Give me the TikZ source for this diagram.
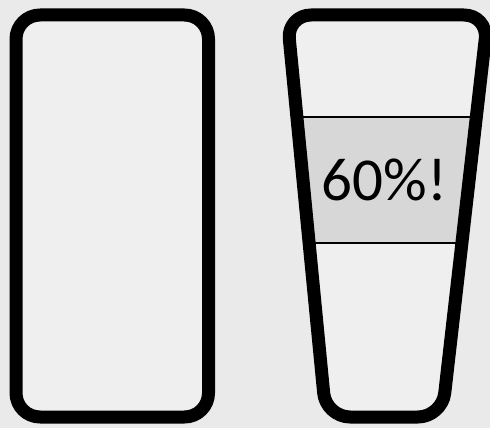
\documentclass[tikz,border=0pt]{standalone}
\usepackage{fontspec}
\setmainfont{Carlito}
\usetikzlibrary{calc}
\definecolor{paper}{HTML}{EAEAEA}
\definecolor{inside}{HTML}{EFEFEF}
\definecolor{band}{HTML}{D7D7D7}

\begin{document}
\begin{tikzpicture}[x=1pt, y=-1pt, rim/.style={draw=black, line width=13pt, rounded corners=24pt, line join=round}, level/.style={line width=2.5pt}]
\useasboundingbox[fill=paper] (0,0) rectangle (490,428);
% plain box on the left
\draw[rim, fill=inside] (16,15) rectangle (208.5,417);
% tapered cup on the right
\coordinate (tl) at (287,15);
\coordinate (tr) at (488,15);
\coordinate (br) at (442,417);
\coordinate (bl) at (326,417);
\fill[inside, rounded corners=24pt] (tl) -- (tr) -- (br) -- (bl) -- cycle;
\coordinate (hiL) at ($(tl)!0.254!(bl)$);
\coordinate (hiR) at ($(tr)!0.254!(br)$);
\coordinate (loL) at ($(tl)!0.567!(bl)$);
\coordinate (loR) at ($(tr)!0.567!(br)$);
\fill[band] (hiL) -- (hiR) -- (loR) -- (loL) -- cycle;
\draw[level] (hiL) -- (hiR);
\draw[level] (loL) -- (loR);
\node[anchor=base, inner sep=0pt, font=\fontsize{61}{70}\selectfont] (pct) at (384.5,200) {60\%!};
\draw[rim] (tl) -- (tr) -- (br) -- (bl) -- cycle;
\end{tikzpicture}
\end{document}
